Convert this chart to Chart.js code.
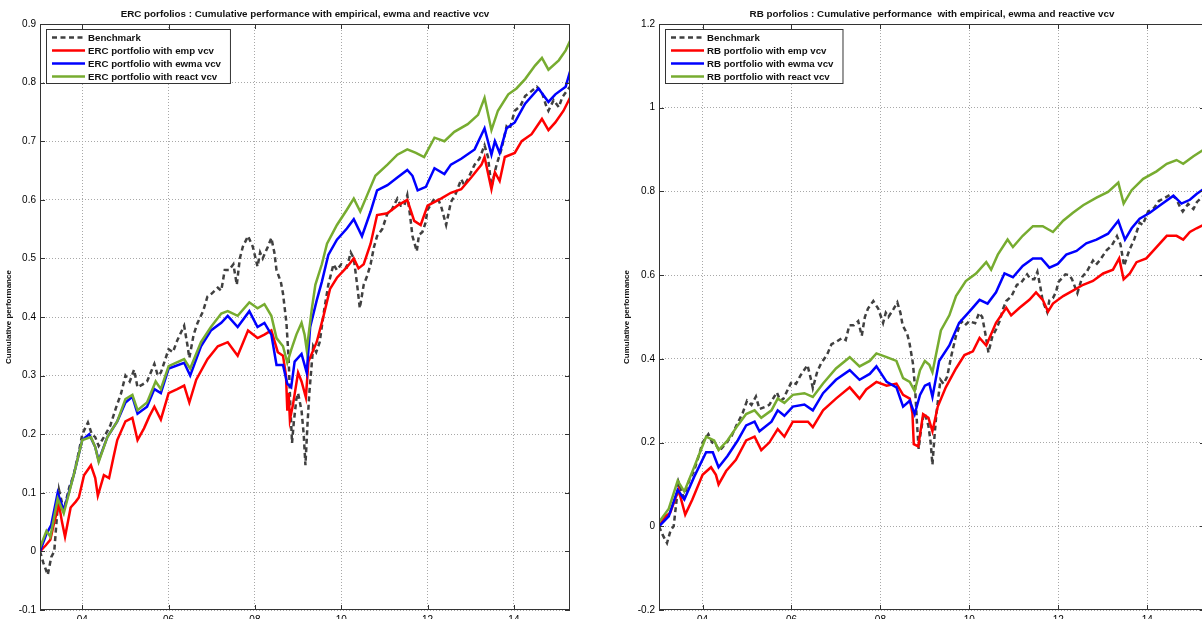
<!DOCTYPE html>
<html>
<head>
<meta charset="utf-8">
<script src="https://cdn.jsdelivr.net/npm/chart.js@4.4.1/dist/chart.umd.min.js"></script>
<style>
  html, body { margin: 0; padding: 0; background: #fff; overflow: hidden; width: 1202px; height: 619px; }
  canvas { position: absolute; top: 0; }
  #ercChart { left: 0; }
  #rbChart { left: 610px; }
</style>
</head>
<body>
<canvas id="ercChart" width="610" height="640"></canvas>
<canvas id="rbChart" width="600" height="640"></canvas>
<script>
// [year, cumulative performance]
var benchmark = [
    [2003.02, 0.0], [2003.1, -0.02], [2003.2, -0.04], [2003.28, -0.01], [2003.35, 0.0], [2003.46, 0.105],
    [2003.57, 0.07], [2003.7, 0.11], [2003.8, 0.13], [2003.92, 0.17], [2004.0, 0.2], [2004.13, 0.22],
    [2004.22, 0.2], [2004.3, 0.195], [2004.38, 0.18], [2004.54, 0.2], [2004.65, 0.215], [2004.78, 0.245],
    [2004.9, 0.27], [2005.0, 0.3], [2005.1, 0.29], [2005.2, 0.31], [2005.28, 0.28], [2005.4, 0.285],
    [2005.5, 0.29], [2005.67, 0.32], [2005.75, 0.3], [2005.82, 0.305], [2006.0, 0.345], [2006.1, 0.34],
    [2006.2, 0.36], [2006.36, 0.385], [2006.44, 0.35], [2006.48, 0.33], [2006.58, 0.37], [2006.67, 0.39],
    [2006.8, 0.41], [2006.9, 0.435], [2007.0, 0.44], [2007.14, 0.45], [2007.22, 0.445], [2007.3, 0.48],
    [2007.4, 0.48], [2007.5, 0.49], [2007.58, 0.455], [2007.65, 0.5], [2007.72, 0.52], [2007.84, 0.538],
    [2007.95, 0.52], [2008.06, 0.486], [2008.12, 0.51], [2008.18, 0.5], [2008.3, 0.52], [2008.38, 0.535],
    [2008.45, 0.51], [2008.5, 0.48], [2008.6, 0.46], [2008.65, 0.44], [2008.73, 0.39], [2008.78, 0.33],
    [2008.82, 0.25], [2008.86, 0.185], [2008.9, 0.22], [2008.96, 0.26], [2009.0, 0.27], [2009.08, 0.24],
    [2009.13, 0.2], [2009.17, 0.147], [2009.22, 0.22], [2009.26, 0.27], [2009.35, 0.35], [2009.42, 0.34],
    [2009.5, 0.357], [2009.6, 0.41], [2009.7, 0.455], [2009.82, 0.49], [2009.9, 0.48], [2010.0, 0.49],
    [2010.13, 0.485], [2010.22, 0.51], [2010.29, 0.5], [2010.36, 0.46], [2010.43, 0.415], [2010.52, 0.455],
    [2010.6, 0.47], [2010.68, 0.49], [2010.76, 0.52], [2010.83, 0.538], [2010.95, 0.55], [2011.07, 0.577],
    [2011.15, 0.58], [2011.3, 0.602], [2011.38, 0.59], [2011.46, 0.59], [2011.53, 0.608], [2011.6, 0.57],
    [2011.65, 0.538], [2011.72, 0.52], [2011.75, 0.512], [2011.8, 0.54], [2011.88, 0.545], [2011.95, 0.56],
    [2012.0, 0.583], [2012.16, 0.602], [2012.25, 0.6], [2012.31, 0.59], [2012.4, 0.565], [2012.43, 0.557],
    [2012.54, 0.596], [2012.65, 0.61], [2012.78, 0.635], [2012.85, 0.625], [2012.93, 0.635], [2013.09, 0.66],
    [2013.2, 0.67], [2013.32, 0.693], [2013.4, 0.673], [2013.48, 0.622], [2013.55, 0.645], [2013.6, 0.66],
    [2013.71, 0.686], [2013.83, 0.725], [2013.9, 0.72], [2014.02, 0.752], [2014.15, 0.76], [2014.26, 0.777],
    [2014.4, 0.785], [2014.53, 0.793], [2014.65, 0.783], [2014.75, 0.76], [2014.8, 0.752], [2014.92, 0.77],
    [2015.04, 0.758], [2015.12, 0.775], [2015.2, 0.783], [2015.3, 0.793]
];

var ercEmp = [
    [2003.02, 0.0], [2003.15, 0.01], [2003.26, 0.02], [2003.35, 0.05], [2003.46, 0.08], [2003.53, 0.05],
    [2003.6, 0.025], [2003.73, 0.075], [2003.85, 0.085], [2003.92, 0.092], [2004.04, 0.13], [2004.2, 0.147],
    [2004.3, 0.125], [2004.36, 0.095], [2004.5, 0.13], [2004.62, 0.125], [2004.72, 0.16], [2004.81, 0.19],
    [2005.0, 0.222], [2005.16, 0.228], [2005.28, 0.19], [2005.43, 0.21], [2005.55, 0.23], [2005.67, 0.247],
    [2005.82, 0.225], [2006.0, 0.27], [2006.2, 0.277], [2006.36, 0.283], [2006.48, 0.254], [2006.64, 0.293],
    [2006.9, 0.328], [2007.14, 0.35], [2007.37, 0.357], [2007.6, 0.334], [2007.84, 0.377], [2008.06, 0.364],
    [2008.22, 0.37], [2008.38, 0.377], [2008.53, 0.34], [2008.65, 0.334], [2008.72, 0.3], [2008.75, 0.24],
    [2008.78, 0.27], [2008.81, 0.225], [2008.88, 0.25], [2009.0, 0.305], [2009.08, 0.29], [2009.18, 0.263],
    [2009.24, 0.324], [2009.43, 0.357], [2009.59, 0.402], [2009.74, 0.448], [2009.9, 0.467], [2010.13, 0.485],
    [2010.29, 0.5], [2010.4, 0.483], [2010.52, 0.49], [2010.68, 0.525], [2010.83, 0.574], [2011.07, 0.577],
    [2011.3, 0.59], [2011.53, 0.6], [2011.69, 0.564], [2011.84, 0.557], [2012.0, 0.59], [2012.31, 0.602],
    [2012.54, 0.612], [2012.78, 0.618], [2013.01, 0.638], [2013.25, 0.66], [2013.32, 0.673], [2013.48, 0.618],
    [2013.56, 0.647], [2013.67, 0.632], [2013.79, 0.673], [2014.02, 0.68], [2014.18, 0.7], [2014.41, 0.712],
    [2014.65, 0.738], [2014.8, 0.719], [2014.96, 0.732], [2015.15, 0.752], [2015.3, 0.774]
];

var ercEwma = [
    [2003.02, 0.0], [2003.17, 0.03], [2003.28, 0.045], [2003.43, 0.1], [2003.57, 0.07], [2003.8, 0.13],
    [2004.0, 0.19], [2004.16, 0.2], [2004.3, 0.178], [2004.38, 0.155], [2004.58, 0.195], [2004.81, 0.222],
    [2005.0, 0.254], [2005.16, 0.264], [2005.28, 0.235], [2005.5, 0.247], [2005.67, 0.277], [2005.82, 0.27],
    [2006.0, 0.312], [2006.36, 0.322], [2006.5, 0.3], [2006.75, 0.35], [2006.98, 0.377], [2007.22, 0.39],
    [2007.37, 0.402], [2007.6, 0.383], [2007.87, 0.41], [2008.06, 0.383], [2008.22, 0.39], [2008.38, 0.37],
    [2008.5, 0.318], [2008.65, 0.318], [2008.75, 0.286], [2008.84, 0.28], [2008.92, 0.324], [2009.08, 0.337],
    [2009.2, 0.305], [2009.28, 0.383], [2009.43, 0.428], [2009.55, 0.46], [2009.7, 0.506], [2009.9, 0.532],
    [2010.13, 0.551], [2010.29, 0.567], [2010.48, 0.538], [2010.68, 0.58], [2010.83, 0.616], [2011.07, 0.625],
    [2011.3, 0.638], [2011.53, 0.651], [2011.65, 0.641], [2011.77, 0.616], [2011.96, 0.622], [2012.16, 0.654],
    [2012.39, 0.644], [2012.54, 0.66], [2012.78, 0.67], [2013.09, 0.686], [2013.32, 0.722], [2013.48, 0.677],
    [2013.56, 0.7], [2013.67, 0.68], [2013.83, 0.722], [2014.02, 0.732], [2014.26, 0.764], [2014.57, 0.79],
    [2014.8, 0.767], [2014.96, 0.78], [2015.2, 0.793], [2015.3, 0.819]
];

var ercReact = [
    [2003.02, 0.006], [2003.17, 0.035], [2003.26, 0.025], [2003.43, 0.09], [2003.57, 0.065], [2003.8, 0.13],
    [2004.0, 0.19], [2004.2, 0.195], [2004.3, 0.178], [2004.38, 0.153], [2004.58, 0.195], [2004.81, 0.222],
    [2005.0, 0.26], [2005.16, 0.267], [2005.28, 0.241], [2005.5, 0.254], [2005.7, 0.29], [2005.82, 0.277],
    [2006.0, 0.316], [2006.36, 0.328], [2006.5, 0.312], [2006.75, 0.357], [2006.98, 0.383], [2007.22, 0.406],
    [2007.37, 0.41], [2007.6, 0.402], [2007.87, 0.425], [2008.06, 0.415], [2008.22, 0.422], [2008.38, 0.402],
    [2008.5, 0.364], [2008.65, 0.35], [2008.75, 0.322], [2008.84, 0.344], [2008.96, 0.37], [2009.08, 0.39],
    [2009.15, 0.37], [2009.2, 0.344], [2009.32, 0.415], [2009.4, 0.455], [2009.55, 0.49], [2009.67, 0.525],
    [2009.9, 0.557], [2010.13, 0.583], [2010.29, 0.602], [2010.44, 0.58], [2010.6, 0.608], [2010.79, 0.641],
    [2011.07, 0.66], [2011.3, 0.677], [2011.53, 0.686], [2011.73, 0.68], [2011.92, 0.673], [2012.16, 0.706],
    [2012.39, 0.7], [2012.62, 0.716], [2012.93, 0.729], [2013.17, 0.745], [2013.32, 0.774], [2013.48, 0.719],
    [2013.63, 0.752], [2013.87, 0.78], [2014.06, 0.79], [2014.26, 0.806], [2014.49, 0.829], [2014.65, 0.842],
    [2014.8, 0.822], [2015.04, 0.838], [2015.2, 0.855], [2015.3, 0.871]
];

var rbEmp = [
    [2003.02, 0.0], [2003.17, 0.024], [2003.27, 0.032], [2003.46, 0.087], [2003.61, 0.028], [2003.77, 0.064],
    [2004.0, 0.123], [2004.19, 0.141], [2004.3, 0.123], [2004.36, 0.1], [2004.53, 0.132], [2004.75, 0.159],
    [2004.98, 0.205], [2005.17, 0.214], [2005.32, 0.182], [2005.5, 0.2], [2005.69, 0.232], [2005.84, 0.214],
    [2006.03, 0.25], [2006.26, 0.25], [2006.37, 0.25], [2006.48, 0.237], [2006.71, 0.277], [2007.0, 0.305],
    [2007.31, 0.332], [2007.53, 0.305], [2007.68, 0.327], [2007.91, 0.345], [2008.14, 0.336], [2008.36, 0.341],
    [2008.51, 0.314], [2008.66, 0.305], [2008.72, 0.27], [2008.75, 0.196], [2008.85, 0.191], [2008.96, 0.268],
    [2009.08, 0.259], [2009.17, 0.227], [2009.29, 0.286], [2009.47, 0.332], [2009.7, 0.377], [2009.89, 0.409],
    [2010.08, 0.418], [2010.23, 0.45], [2010.38, 0.432], [2010.6, 0.486], [2010.83, 0.522], [2010.94, 0.504],
    [2011.13, 0.522], [2011.35, 0.541], [2011.5, 0.559], [2011.65, 0.541], [2011.77, 0.513], [2011.88, 0.532],
    [2012.11, 0.55], [2012.33, 0.563], [2012.56, 0.577], [2012.78, 0.586], [2013.01, 0.604], [2013.23, 0.613],
    [2013.37, 0.64], [2013.47, 0.59], [2013.61, 0.604], [2013.76, 0.631], [2013.98, 0.64], [2014.21, 0.667],
    [2014.44, 0.694], [2014.66, 0.694], [2014.81, 0.685], [2014.96, 0.703], [2015.11, 0.712], [2015.3, 0.722]
];

var rbEwma = [
    [2003.02, 0.0], [2003.24, 0.024], [2003.44, 0.087], [2003.59, 0.064], [2003.81, 0.118], [2004.08, 0.177],
    [2004.23, 0.177], [2004.36, 0.141], [2004.56, 0.168], [2004.79, 0.205], [2004.98, 0.241], [2005.17, 0.25],
    [2005.28, 0.227], [2005.55, 0.25], [2005.69, 0.277], [2005.84, 0.264], [2006.03, 0.286], [2006.29, 0.291],
    [2006.48, 0.277], [2006.71, 0.318], [2007.0, 0.35], [2007.31, 0.373], [2007.53, 0.35], [2007.76, 0.364],
    [2007.91, 0.382], [2008.14, 0.345], [2008.36, 0.332], [2008.51, 0.286], [2008.66, 0.3], [2008.77, 0.268],
    [2008.89, 0.314], [2009.0, 0.336], [2009.1, 0.341], [2009.17, 0.309], [2009.32, 0.395], [2009.55, 0.432],
    [2009.77, 0.486], [2010.0, 0.513], [2010.23, 0.541], [2010.41, 0.532], [2010.6, 0.559], [2010.79, 0.604],
    [2010.98, 0.595], [2011.2, 0.622], [2011.43, 0.64], [2011.62, 0.64], [2011.8, 0.618], [2011.99, 0.627],
    [2012.18, 0.649], [2012.41, 0.658], [2012.63, 0.676], [2012.86, 0.685], [2013.12, 0.699], [2013.35, 0.73],
    [2013.5, 0.685], [2013.65, 0.712], [2013.83, 0.735], [2014.06, 0.749], [2014.29, 0.767], [2014.59, 0.79],
    [2014.77, 0.771], [2014.96, 0.78], [2015.11, 0.794], [2015.3, 0.808]
];

var rbReact = [
    [2003.02, 0.01], [2003.24, 0.042], [2003.44, 0.109], [2003.59, 0.083], [2003.81, 0.141], [2004.08, 0.214],
    [2004.26, 0.205], [2004.36, 0.182], [2004.56, 0.205], [2004.79, 0.241], [2004.98, 0.268], [2005.17, 0.277],
    [2005.32, 0.259], [2005.55, 0.277], [2005.69, 0.305], [2005.84, 0.295], [2006.03, 0.314], [2006.29, 0.318],
    [2006.48, 0.309], [2006.71, 0.341], [2007.0, 0.377], [2007.31, 0.404], [2007.53, 0.382], [2007.76, 0.395],
    [2007.91, 0.413], [2008.14, 0.404], [2008.36, 0.395], [2008.51, 0.354], [2008.66, 0.345], [2008.77, 0.323],
    [2008.89, 0.373], [2009.0, 0.395], [2009.1, 0.386], [2009.17, 0.368], [2009.36, 0.468], [2009.55, 0.504],
    [2009.7, 0.55], [2009.92, 0.586], [2010.15, 0.604], [2010.38, 0.631], [2010.49, 0.613], [2010.64, 0.649],
    [2010.86, 0.685], [2010.98, 0.667], [2011.2, 0.694], [2011.43, 0.717], [2011.65, 0.717], [2011.88, 0.703],
    [2012.11, 0.73], [2012.33, 0.749], [2012.56, 0.767], [2012.86, 0.785], [2013.12, 0.799], [2013.35, 0.821],
    [2013.47, 0.771], [2013.65, 0.803], [2013.91, 0.83], [2014.21, 0.848], [2014.44, 0.866], [2014.66, 0.875],
    [2014.81, 0.866], [2015.04, 0.884], [2015.3, 0.902]
];

var xTicks = [2004, 2006, 2008, 2010, 2012, 2014];
var ercYTicks = [-0.1, 0, 0.1, 0.2, 0.3, 0.4, 0.5, 0.6, 0.7, 0.8, 0.9];
var rbYTicks = [-0.2, 0, 0.2, 0.4, 0.6, 0.8, 1, 1.2];

var FONT = '"Liberation Sans", Arial, Helvetica, sans-serif';

function pts(arr) {
    return arr.map(function (p) { return { x: p[0], y: p[1] }; });
}

function series(label, arr, color, order, dash) {
    return {
        label: label,
        data: pts(arr),
        borderColor: color,
        backgroundColor: color,
        borderWidth: 2.5,
        borderDash: dash || [],
        pointRadius: 0,
        tension: 0,
        fill: false,
        order: order
    };
}

// box, inward ticks and legend drawn the matlab way
var matlabAxes = {
    id: 'matlabAxes',
    afterDraw: function (chart) {
        var ctx = chart.ctx, a = chart.chartArea;
        var xs = chart.scales.x, ys = chart.scales.y;
        ctx.save();
        ctx.strokeStyle = '#333';
        ctx.lineWidth = 1;
        ctx.strokeRect(a.left + 0.5, a.top + 0.5, a.right - a.left - 1, a.bottom - a.top - 1);
        ctx.beginPath();
        xs.ticks.forEach(function (t) {
            var px = Math.round(xs.getPixelForValue(t.value)) + 0.5;
            ctx.moveTo(px, a.bottom); ctx.lineTo(px, a.bottom - 5);
            ctx.moveTo(px, a.top); ctx.lineTo(px, a.top + 5);
        });
        ys.ticks.forEach(function (t) {
            var py = Math.round(ys.getPixelForValue(t.value)) + 0.5;
            ctx.moveTo(a.left, py); ctx.lineTo(a.left + 5, py);
            ctx.moveTo(a.right, py); ctx.lineTo(a.right - 5, py);
        });
        ctx.stroke();

        ctx.font = 'bold 9.7px ' + FONT;
        var sets = chart.data.datasets;
        var textW = 0;
        sets.forEach(function (d) { textW = Math.max(textW, ctx.measureText(d.label).width); });
        var x0 = a.left + 6, y0 = a.top + 5;
        var w = 42 + textW + 9, h = 54;
        ctx.fillStyle = '#fff';
        ctx.fillRect(x0, y0, w, h);
        ctx.strokeRect(x0 + 0.5, y0 + 0.5, w, h);
        sets.forEach(function (d, i) {
            var y = y0 + 8.5 + i * 13;
            ctx.save();
            ctx.strokeStyle = d.borderColor;
            ctx.lineWidth = d.borderWidth;
            ctx.setLineDash(d.borderDash);
            ctx.beginPath();
            ctx.moveTo(x0 + 6, y); ctx.lineTo(x0 + 39, y);
            ctx.stroke();
            ctx.restore();
            ctx.fillStyle = '#111';
            ctx.textBaseline = 'middle';
            ctx.textAlign = 'left';
            ctx.fillText(d.label, x0 + 42, y + 0.5);
        });
        ctx.restore();
    }
};

function makeChart(id, title, sets, yMin, yMax, yTicks, yWidth, pad) {
    return new Chart(document.getElementById(id).getContext('2d'), {
        type: 'line',
        data: { datasets: sets },
        plugins: [matlabAxes],
        options: {
            responsive: false,
            animation: false,
            devicePixelRatio: 1,
            layout: { padding: pad },
            plugins: {
                legend: { display: false },
                tooltip: { enabled: false },
                title: {
                    display: true,
                    text: title,
                    fullSize: false,
                    color: '#111',
                    font: { family: FONT, size: 9.8, weight: 'bold', lineHeight: 1 },
                    padding: { top: 9.2, bottom: 5 }
                }
            },
            scales: {
                x: {
                    type: 'linear',
                    min: 2003.02,
                    max: 2015.3,
                    afterBuildTicks: function (s) { s.ticks = xTicks.map(function (v) { return { value: v }; }); },
                    afterFit: function (s) { s.height = 30; },
                    ticks: {
                        color: '#000',
                        padding: 4,
                        maxRotation: 0,
                        font: { family: FONT, size: 10 },
                        callback: function (v) { return String(v).slice(2); }
                    },
                    grid: { color: '#a8a8a8', lineWidth: 1, drawTicks: false },
                    border: { display: false, dash: [1, 2] }
                },
                y: {
                    min: yMin,
                    max: yMax,
                    afterBuildTicks: function (s) { s.ticks = yTicks.map(function (v) { return { value: v }; }); },
                    afterFit: function (s) { s.width = yWidth; },
                    ticks: {
                        color: '#000',
                        padding: 4,
                        font: { family: FONT, size: 10 },
                        callback: function (v) { return String(+v.toFixed(1)); }
                    },
                    grid: { color: '#a8a8a8', lineWidth: 1, drawTicks: false },
                    border: { display: false, dash: [1, 2] },
                    title: {
                        display: true,
                        text: 'Cumulative performance',
                        color: '#111',
                        font: { family: FONT, size: 8, weight: 'bold' }
                    }
                }
            }
        }
    });
}

makeChart('ercChart',
    'ERC porfolios : Cumulative performance with empirical, ewma and reactive vcv',
    [
        series('Benchmark', benchmark, '#404040', 3, [5, 3.5]),
        series('ERC portfolio with emp vcv', ercEmp, '#ff0000', 2),
        series('ERC portfolio with ewma vcv', ercEwma, '#0000ff', 1),
        series('ERC portfolio with react vcv', ercReact, '#77ac30', 0)
    ],
    -0.1, 0.9, ercYTicks, 40, { left: 0, right: 40, top: 0, bottom: 0 });

makeChart('rbChart',
    'RB porfolios : Cumulative performance  with empirical, ewma and reactive vcv',
    [
        series('Benchmark', benchmark, '#404040', 3, [5, 3.5]),
        series('RB portfolio with emp vcv', rbEmp, '#ff0000', 2),
        series('RB portfolio with ewma vcv', rbEwma, '#0000ff', 1),
        series('RB portfolio with react vcv', rbReact, '#77ac30', 0)
    ],
    -0.2, 1.2, rbYTicks, 41, { left: 8, right: 5, top: 0, bottom: 0 });
</script>
</body>
</html>
